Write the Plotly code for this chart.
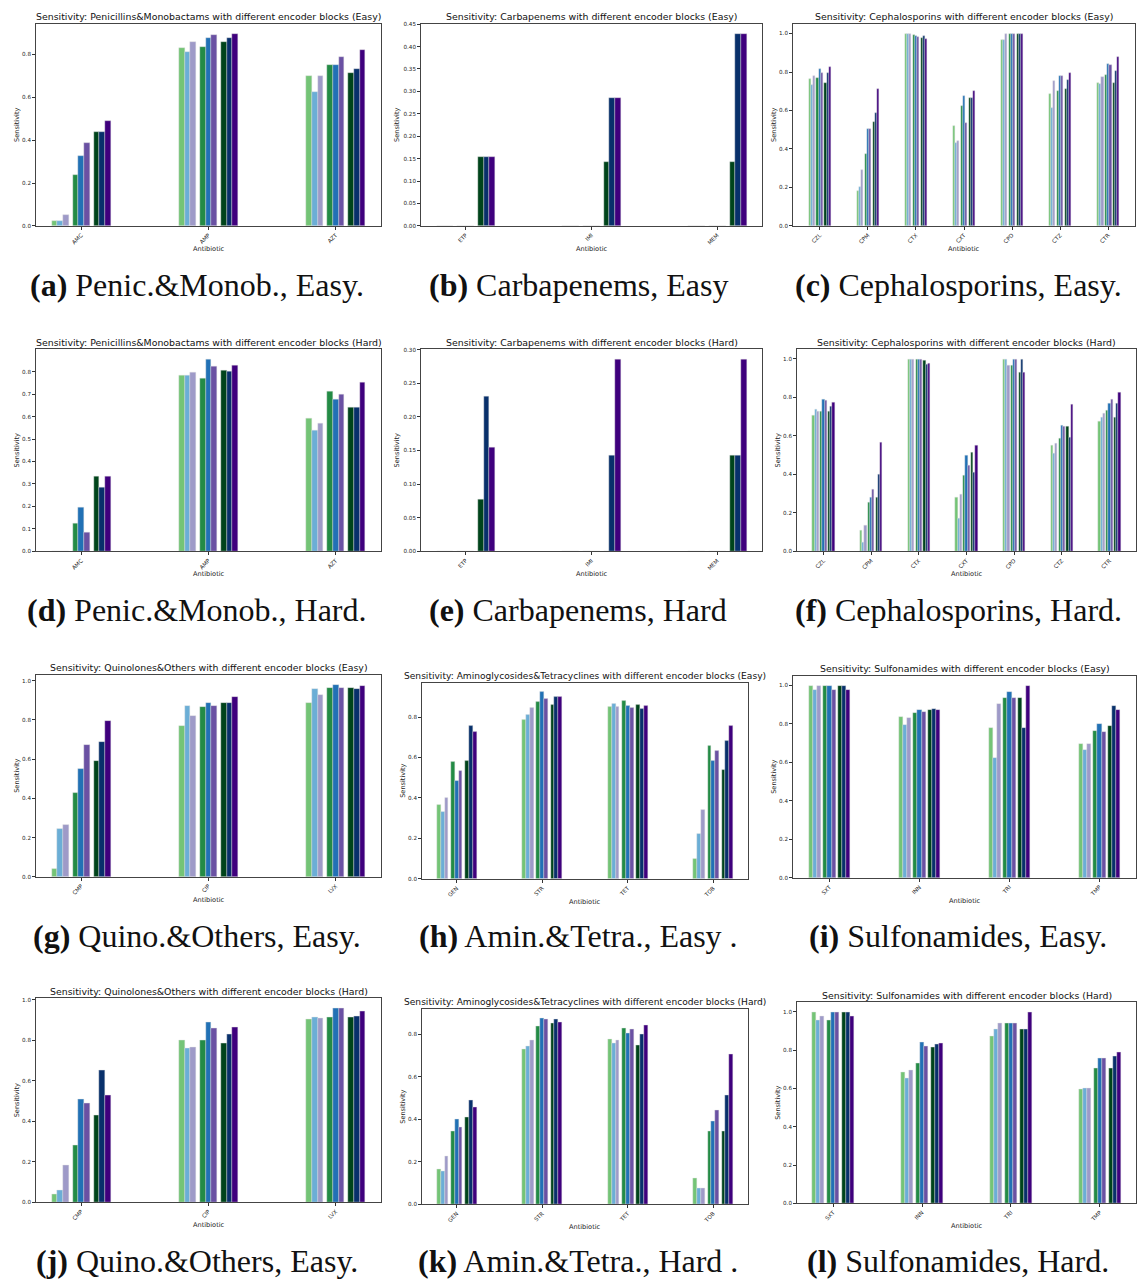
import plotly.graph_objects as go

W, H = 1137, 1280

SERIES = ["Blocks A1", "Blocks A2", "Blocks A3",
          "Blocks B1", "Blocks B2", "Blocks B3",
          "Blocks C1", "Blocks C2", "Blocks C3"]
COLORS = ["#74c476", "#6baed6", "#9e9ac8",
          "#238b45", "#2171b5", "#6a51a3",
          "#00441b", "#08306b", "#3f007d"]

PEN_CATS = ["AMC", "AMP", "AZT"]
CARB_CATS = ["ETP", "IMI", "MEM"]
CEPH_CATS = ["CZL", "CPM", "CTX", "CXT", "CPD", "CTZ", "CTR"]
QUIN_CATS = ["CMP", "CIP", "LVX"]
AMIN_CATS = ["GEN", "STR", "TET", "TOB"]
SULF_CATS = ["SXT", "INN", "TRI", "TMP"]

# each row = one antibiotic, 9 values = 9 encoder-block settings
pen_easy = [
    [0.025, 0.025, 0.051, 0.237, 0.325, 0.388, 0.438, 0.438, 0.487],
    [0.831, 0.812, 0.857, 0.832, 0.875, 0.891, 0.855, 0.874, 0.896],
    [0.697, 0.624, 0.697, 0.749, 0.749, 0.786, 0.712, 0.731, 0.820],
]
carb_easy = [
    [0.0, 0.0, 0.0, 0.0, 0.0, 0.0, 0.154, 0.154, 0.154],
    [0.0, 0.0, 0.0, 0.0, 0.0, 0.0, 0.143, 0.286, 0.286],
    [0.0, 0.0, 0.0, 0.0, 0.0, 0.0, 0.143, 0.429, 0.429],
]
ceph_easy = [
    [0.764, 0.733, 0.778, 0.770, 0.814, 0.793, 0.745, 0.797, 0.829],
    [0.180, 0.205, 0.290, 0.375, 0.502, 0.502, 0.540, 0.590, 0.710],
    [1.000, 1.000, 1.000, 0.995, 0.990, 0.980, 0.975, 0.990, 0.970],
    [0.520, 0.432, 0.440, 0.622, 0.676, 0.535, 0.667, 0.667, 0.702],
    [0.965, 0.965, 1.000, 1.000, 1.000, 1.000, 1.000, 1.000, 1.000],
    [0.685, 0.612, 0.752, 0.702, 0.778, 0.782, 0.713, 0.757, 0.797],
    [0.741, 0.736, 0.776, 0.785, 0.840, 0.835, 0.741, 0.805, 0.880],
]
pen_hard = [
    [0.0, 0.0, 0.0, 0.124, 0.198, 0.086, 0.336, 0.287, 0.336],
    [0.781, 0.781, 0.796, 0.769, 0.856, 0.821, 0.805, 0.799, 0.827],
    [0.590, 0.537, 0.571, 0.713, 0.677, 0.697, 0.641, 0.641, 0.751],
]
carb_hard = [
    [0.0, 0.0, 0.0, 0.0, 0.0, 0.0, 0.077, 0.231, 0.154],
    [0.0, 0.0, 0.0, 0.0, 0.0, 0.0, 0.0, 0.143, 0.286],
    [0.0, 0.0, 0.0, 0.0, 0.0, 0.0, 0.143, 0.143, 0.286],
]
ceph_hard = [
    [0.709, 0.740, 0.730, 0.730, 0.791, 0.784, 0.730, 0.754, 0.772],
    [0.109, 0.048, 0.135, 0.254, 0.282, 0.324, 0.282, 0.400, 0.566],
    [1.000, 1.000, 1.000, 1.000, 1.000, 1.000, 0.995, 0.972, 0.979],
    [0.279, 0.173, 0.298, 0.394, 0.500, 0.448, 0.517, 0.412, 0.552],
    [1.000, 1.000, 0.967, 0.967, 1.000, 1.000, 0.929, 1.000, 0.929],
    [0.550, 0.509, 0.561, 0.588, 0.657, 0.652, 0.652, 0.592, 0.765],
    [0.675, 0.695, 0.716, 0.734, 0.768, 0.792, 0.699, 0.768, 0.827],
]
quin_easy = [
    [0.041, 0.245, 0.265, 0.427, 0.549, 0.671, 0.590, 0.691, 0.796],
    [0.772, 0.870, 0.823, 0.867, 0.885, 0.870, 0.885, 0.885, 0.919],
    [0.889, 0.959, 0.929, 0.965, 0.981, 0.965, 0.965, 0.959, 0.975],
]
amin_easy = [
    [0.365, 0.330, 0.399, 0.578, 0.485, 0.532, 0.585, 0.759, 0.726],
    [0.785, 0.810, 0.846, 0.876, 0.923, 0.889, 0.862, 0.899, 0.899],
    [0.849, 0.864, 0.849, 0.879, 0.854, 0.846, 0.862, 0.841, 0.857],
    [0.100, 0.222, 0.342, 0.660, 0.585, 0.634, 0.537, 0.683, 0.756],
]
sulf_easy = [
    [1.000, 0.978, 1.000, 1.000, 1.000, 0.978, 1.000, 1.000, 0.978],
    [0.835, 0.797, 0.830, 0.856, 0.875, 0.861, 0.875, 0.881, 0.875],
    [0.782, 0.624, 0.907, 0.938, 0.969, 0.938, 0.938, 0.782, 1.000],
    [0.699, 0.668, 0.696, 0.765, 0.802, 0.758, 0.789, 0.892, 0.875],
]
quin_hard = [
    [0.040, 0.059, 0.182, 0.284, 0.510, 0.488, 0.429, 0.652, 0.530],
    [0.800, 0.759, 0.767, 0.800, 0.891, 0.860, 0.785, 0.830, 0.865],
    [0.903, 0.914, 0.909, 0.914, 0.960, 0.960, 0.914, 0.921, 0.942],
]
amin_hard = [
    [0.163, 0.155, 0.224, 0.342, 0.398, 0.363, 0.410, 0.491, 0.457],
    [0.730, 0.743, 0.770, 0.837, 0.873, 0.868, 0.850, 0.868, 0.856],
    [0.775, 0.755, 0.770, 0.826, 0.803, 0.825, 0.749, 0.797, 0.840],
    [0.123, 0.076, 0.076, 0.342, 0.391, 0.440, 0.342, 0.513, 0.707],
]
sulf_hard = [
    [1.000, 0.954, 0.976, 0.954, 1.000, 1.000, 1.000, 1.000, 0.976],
    [0.684, 0.651, 0.696, 0.730, 0.841, 0.822, 0.815, 0.829, 0.834],
    [0.875, 0.908, 0.938, 0.938, 0.938, 0.938, 0.908, 0.908, 1.000],
    [0.597, 0.600, 0.600, 0.706, 0.757, 0.757, 0.706, 0.766, 0.790],
]

PANELS = [
    # title, cats, values, dtick, fmt, (left, right, top, bottom) px, title size, caption letter, caption text
    ("Sensitivity: Penicillins&Monobactams with different encoder blocks (Easy)", PEN_CATS, pen_easy, 0.2, ".1f", (36, 381, 21, 224), 9.4, "(a)", "Penic.&Monob., Easy."),
    ("Sensitivity: Carbapenems with different encoder blocks (Easy)", CARB_CATS, carb_easy, 0.05, ".2f", (421, 762, 21, 224), 9.4, "(b)", "Carbapenems, Easy"),
    ("Sensitivity: Cephalosporins with different encoder blocks (Easy)", CEPH_CATS, ceph_easy, 0.2, ".1f", (793, 1135, 21, 224), 9.4, "(c)", "Cephalosporins, Easy."),
    ("Sensitivity: Penicillins&Monobactams with different encoder blocks (Hard)", PEN_CATS, pen_hard, 0.1, ".1f", (36, 381, 348, 551), 9.4, "(d)", "Penic.&Monob., Hard."),
    ("Sensitivity: Carbapenems with different encoder blocks (Hard)", CARB_CATS, carb_hard, 0.05, ".2f", (421, 762, 348, 551), 9.4, "(e)", "Carbapenems, Hard"),
    ("Sensitivity: Cephalosporins with different encoder blocks (Hard)", CEPH_CATS, ceph_hard, 0.2, ".1f", (797, 1136, 348, 551), 9.4, "(f)", "Cephalosporins, Hard."),
    ("Sensitivity: Quinolones&Others with different encoder blocks (Easy)", QUIN_CATS, quin_easy, 0.2, ".1f", (36, 381, 675, 878), 9.4, "(g)", "Quino.&Others, Easy."),
    ("Sensitivity: Aminoglycosides&Tetracyclines with different encoder blocks (Easy)", AMIN_CATS, amin_easy, 0.2, ".1f", (422, 748, 683, 880), 9.1, "(h)", "Amin.&Tetra., Easy ."),
    ("Sensitivity: Sulfonamides with different encoder blocks (Easy)", SULF_CATS, sulf_easy, 0.2, ".1f", (793, 1136, 676, 879), 9.4, "(i)", "Sulfonamides, Easy."),
    ("Sensitivity: Quinolones&Others with different encoder blocks (Hard)", QUIN_CATS, quin_hard, 0.2, ".1f", (36, 381, 1000, 1205), 9.4, "(j)", "Quino.&Others, Easy."),
    ("Sensitivity: Aminoglycosides&Tetracyclines with different encoder blocks (Hard)", AMIN_CATS, amin_hard, 0.2, ".1f", (422, 748, 1011, 1207), 9.1, "(k)", "Amin.&Tetra., Hard ."),
    ("Sensitivity: Sulfonamides with different encoder blocks (Hard)", SULF_CATS, sulf_hard, 0.2, ".1f", (797, 1136, 1004, 1206), 9.4, "(l)", "Sulfonamides, Hard."),
]

CAPTION_X = [197, 578, 958]
CAPTION_Y = [283, 610, 937, 1264]

BAR_W = 0.045
GAP = 0.03
HALF = 4.5 * BAR_W + GAP


def bar_center(k):
    cluster = k // 3 - 1
    within = k % 3 - 1
    return cluster * (3 * BAR_W + GAP) + within * BAR_W


def px(x):
    return x / W


def py(y):
    return 1 - y / H


fig = go.Figure()
annotations = []
TXT = "#222222"

for i, (title, cats, vals, dtick, fmt, box, tsize, letter, cap) in enumerate(PANELS):
    left, right, top, bottom = box
    sfx = "" if i == 0 else str(i + 1)
    xa, ya = "x" + sfx, "y" + sfx
    for k in range(9):
        fig.add_trace(go.Bar(
            x=cats,
            y=[row[k] for row in vals],
            name=SERIES[k],
            marker=dict(color=COLORS[k], line=dict(color="#e0e0e0", width=0.4)),
            width=BAR_W,
            offset=bar_center(k) - BAR_W / 2,
            xaxis=xa, yaxis=ya,
            showlegend=False,
        ))
    n = len(cats)
    lo, hi = -HALF, n - 1 + HALF
    pad = 0.05 * (hi - lo)
    ymax = max(max(r) for r in vals) * 1.05
    axis_common = dict(showline=True, linecolor="#444444", linewidth=0.8, mirror=True,
                       showgrid=False, zeroline=False, ticks="outside", ticklen=3,
                       tickwidth=0.7, tickcolor="#333333",
                       tickfont=dict(family="DejaVu Sans", size=5.6, color=TXT))
    fig.layout["xaxis" + sfx] = dict(axis_common, domain=[px(left), px(right)], anchor=ya,
                                     type="category", categoryorder="array", categoryarray=cats,
                                     range=[lo - pad, hi + pad], tickangle=-45)
    fig.layout["yaxis" + sfx] = dict(axis_common, domain=[py(bottom), py(top)], anchor=xa,
                                     range=[0, ymax], dtick=dtick, tick0=0, tickformat=fmt)
    # subplot title
    annotations.append(dict(text=title, x=px((left + right) / 2), y=py(top - 7), xref="paper", yref="paper",
                            showarrow=False, xanchor="center", yanchor="middle",
                            font=dict(family="DejaVu Sans", size=tsize, color="#111111")))
    # axis titles
    annotations.append(dict(text="Antibiotic", x=px((left + right) / 2), y=py(bottom + 23), xref="paper", yref="paper",
                            showarrow=False, xanchor="center", yanchor="middle",
                            font=dict(family="DejaVu Sans", size=6.6, color=TXT)))
    off = 24 if fmt == ".2f" else 19
    annotations.append(dict(text="Sensitivity", x=px(left - off), y=py((top + bottom) / 2), xref="paper", yref="paper",
                            showarrow=False, xanchor="center", yanchor="middle", textangle=-90,
                            font=dict(family="DejaVu Sans", size=6.6, color=TXT)))
    # caption
    annotations.append(dict(text="<b>" + letter + "</b> " + cap,
                            x=px(CAPTION_X[i % 3]), y=py(CAPTION_Y[i // 3]), xref="paper", yref="paper",
                            showarrow=False, xanchor="center", yanchor="middle",
                            font=dict(family="Liberation Serif", size=32, color="#111111")))

fig.update_layout(
    width=W, height=H, autosize=False,
    margin=dict(l=0, r=0, t=0, b=0),
    paper_bgcolor="white", plot_bgcolor="white",
    barmode="overlay", bargap=0,
    annotations=annotations,
    showlegend=False,
)

fig.write_html("out.html")
